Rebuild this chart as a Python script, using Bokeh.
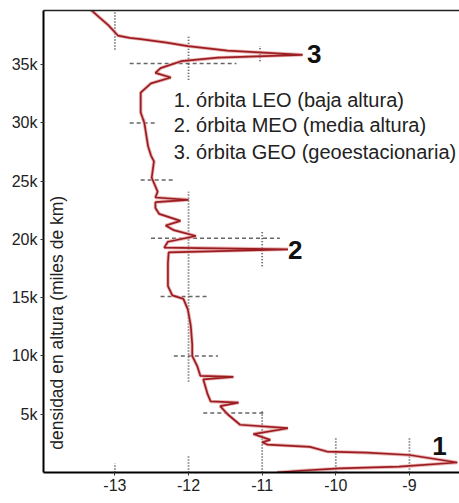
from math import pi
from bokeh.plotting import figure
from bokeh.models import FixedTicker, LinearAxis, Range1d, ColumnDataSource
from bokeh.core.properties import value
from bokeh.embed import file_html
from bokeh.resources import INLINE

# density profile: log10 density (x) vs altitude in thousands of km (y)
profile_x = [-13.36, -13.2, -13.09, -12.96, -12.8, -12.65, -12.3, -12.01, -11.47, -10.45,
             -11.6, -12.1, -12.38, -12.45, -12.24, -12.51, -12.65, -12.65, -12.6, -12.55,
             -12.51, -12.47, -12.5, -12.42, -12.45, -12.0, -12.45, -12.45, -12.4, -12.11,
             -12.31, -12.2, -11.9, -12.28, -12.33, -10.65, -12.27, -12.28, -12.28, -12.22,
             -12.07, -12.01, -11.97, -11.95, -11.95, -11.88, -11.84, -11.39, -11.8, -11.74,
             -11.7, -11.32, -11.57, -11.47, -11.3, -10.65, -11.12, -10.89, -11.0, -10.93,
             -10.35, -10.12, -9.58, -9.0, -8.35, -9.14, -9.95, -10.49, -10.8]
profile_y = [39.9, 39.0, 38.4, 37.5, 37.3, 37.2, 36.9, 36.6, 36.2, 35.85,
             35.6, 35.3, 34.7, 34.3, 33.9, 33.4, 32.6, 30.9, 30.0, 28.0,
             27.2, 26.7, 25.3, 24.1, 23.6, 23.4, 23.2, 22.7, 22.2, 21.6,
             21.2, 20.8, 20.3, 19.8, 19.3, 19.15, 18.9, 18.0, 16.0, 15.2,
             14.9, 14.0, 12.6, 11.0, 10.0, 9.1, 8.3, 8.2, 8.0, 6.7,
             6.1, 6.0, 5.7, 5.0, 4.1, 3.8, 3.3, 2.8, 2.6, 2.4,
             2.2, 1.8, 1.7, 1.5, 0.86, 0.5, 0.35, 0.15, 0.0]

# dashed horizontal error bars
hbar_x0 = [-12.8, -12.8, -12.65, -12.51, -12.38, -12.2, -11.8]
hbar_x1 = [-11.35, -12.42, -12.18, -10.76, -11.73, -11.6, -10.96]
hbar_y = [35.1, 30.0, 25.1, 20.1, 15.1, 10.0, 5.1]

# dotted vertical error bars
vbar_x = [-13.0, -12.0, -11.03, -12.6, -12.0, -11.0, -11.0, -12.0, -13.0, -10.0, -9.0]
vbar_y0 = [36.3, 33.7, 35.3, 29.7, 7.8, 17.7, 0.0, 0.0, 0.0, 0.0, 0.0]
vbar_y1 = [39.7, 37.5, 36.6, 30.3, 24.1, 20.8, 5.4, 1.5, 0.8, 3.1, 3.1]

x_ticks = [-13, -12, -11, -10, -9]
x_tick_labels = ["-13", "-12", "-11", "-10", "-9"]
y_ticks = [5, 10, 15, 20, 25, 30, 35]
y_tick_labels = ["5k", "10k", "15k", "20k", "25k", "30k", "35k"]

legend_lines = ["1. órbita LEO (baja altura)",
                "2. órbita MEO (media altura)",
                "3. órbita GEO (geoestacionaria)"]
legend_y = [32.0, 29.8, 27.5]

marker_labels = ["1", "2", "3"]
marker_x = [-8.69, -10.65, -10.39]
marker_y = [2.3, 19.1, 35.9]

y_label = "densidad en altura (miles de km)"

FONT = "Liberation Sans"

p = figure(width=459, height=503,
           x_range=Range1d(-13.97, -8.32), y_range=Range1d(0, 39.65),
           output_backend="svg", toolbar_location=None,
           min_border_left=43, min_border_right=0, min_border_top=10, min_border_bottom=31)

p.background_fill_color = "white"
p.border_fill_color = "white"
p.outline_line_color = None
p.grid.visible = False

# axes
p.xaxis.ticker = FixedTicker(ticks=x_ticks)
p.xaxis.major_label_overrides = {t: l for t, l in zip(x_ticks, x_tick_labels)}
p.yaxis.ticker = FixedTicker(ticks=y_ticks)
p.yaxis.major_label_overrides = {t: l for t, l in zip(y_ticks, y_tick_labels)}
for ax in (p.xaxis[0], p.yaxis[0]):
    ax.axis_line_width = 2
    ax.axis_line_color = "black"
    ax.major_tick_in = 0
    ax.major_tick_out = 3
    ax.major_tick_line_color = "#333333"
    ax.minor_tick_line_color = None
    ax.major_label_text_font = FONT
    ax.major_label_text_font_size = "16px"
    ax.major_label_text_color = "#222222"
    ax.major_label_standoff = 3

top_axis = LinearAxis(ticker=FixedTicker(ticks=[]), major_tick_out=0, major_tick_in=0,
                      minor_tick_out=0, major_label_text_font_size="0px",
                      axis_line_width=1.5, axis_line_color="#222222")
p.add_layout(top_axis, "above")

# error bars
p.segment(x0=hbar_x0, x1=hbar_x1, y0=hbar_y, y1=hbar_y,
          line_color="#666666", line_width=1.5, line_dash="4 3")
p.segment(x0=vbar_x, x1=vbar_x, y0=vbar_y0, y1=vbar_y1,
          line_color="#444444", line_width=1.8, line_dash="1 2")

# profile
src = ColumnDataSource(dict(x=profile_x, y=profile_y))
p.line("x", "y", source=src, line_color="#e6a3a3", line_width=3.5, line_alpha=0.8)
p.line("x", "y", source=src, line_color="#9b1d22", line_width=1.7)

# texts
p.text(x=[-12.2] * 3, y=legend_y, text=legend_lines,
       text_font=value(FONT), text_font_size="20px", text_color="#222222",
       text_align="left", text_baseline="middle")
p.text(x=marker_x, y=marker_y, text=marker_labels,
       text_font=value(FONT), text_font_size="26px", text_font_style="bold",
       text_color="#111111", text_align="left", text_baseline="middle")
p.text(x=[-13.78], y=[12.85], text=[y_label], angle=pi / 2,
       text_font=value(FONT), text_font_size="17.5px", text_color="#222222",
       text_align="center", text_baseline="middle")

open("out.html", "w").write(file_html(p, INLINE))
